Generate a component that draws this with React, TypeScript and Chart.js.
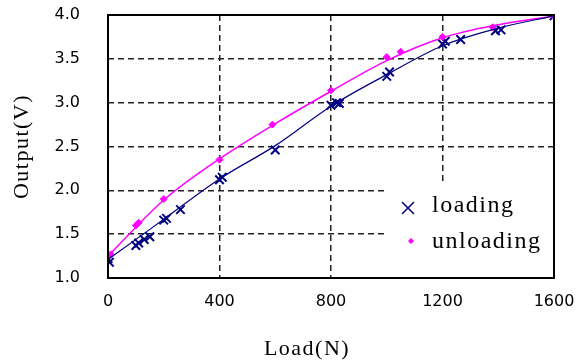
import React, { useEffect, useRef } from "react";
import { Chart, registerables } from "chart.js";
Chart.register(...registerables);

// ---- data ----
const loadingX = [0, 5, 100, 110, 130, 150, 200, 210, 260, 400, 410, 600, 800, 820, 830, 1000, 1010, 1200, 1210, 1265, 1390, 1410, 1600];
const loadingY = [1.22, 1.18, 1.37, 1.40, 1.44, 1.47, 1.66, 1.68, 1.78, 2.12, 2.15, 2.46, 2.97, 3.00, 2.99, 3.30, 3.35, 3.67, 3.70, 3.72, 3.82, 3.83, 3.99];
const unloadingX = [0, 10, 100, 110, 200, 400, 590, 800, 1000, 1050, 1200, 1380, 1600];
const unloadingY = [1.25, 1.27, 1.60, 1.63, 1.90, 2.35, 2.75, 3.14, 3.52, 3.58, 3.75, 3.86, 3.99];
const fitX = [0, 200, 400, 600, 800, 1000, 1200, 1400, 1600];
const loadingFitY = [1.21, 1.67, 2.13, 2.51, 2.96, 3.32, 3.65, 3.85, 3.99];
const unloadingFitY = [1.25, 1.89, 2.36, 2.76, 3.13, 3.48, 3.74, 3.89, 3.99];
const xTickValues = [0, 400, 800, 1200, 1600];
const yTickValues = [1.0, 1.5, 2.0, 2.5, 3.0, 3.5, 4.0];
const seriesNames = ["loading", "unloading"];
const xTitle = "Load(N)";
const yTitle = "Output(V)";

const NAVY = "#000080";
const MAGENTA = "#FF00FF";
const SERIF = '"Liberation Serif", "Times New Roman", serif';

const toPts = (xs: number[], ys: number[]) => xs.map((x, i) => ({ x, y: ys[i] }));

const decor = {
  id: "decor",
  afterDatasetsDraw(chart: any) {
    const { ctx, chartArea: a } = chart;
    ctx.save();
    // legend box
    const bx = a.right - 169;
    const by = a.bottom - 96;
    ctx.fillStyle = "#fff";
    ctx.fillRect(bx, by, a.right - bx, a.bottom - by);
    // loading marker (x)
    const m1x = bx + 23, m1y = by + 26;
    ctx.strokeStyle = NAVY;
    ctx.lineWidth = 1.5;
    ctx.beginPath();
    ctx.moveTo(m1x - 6, m1y - 6); ctx.lineTo(m1x + 6, m1y + 6);
    ctx.moveTo(m1x + 6, m1y - 6); ctx.lineTo(m1x - 6, m1y + 6);
    ctx.stroke();
    // unloading marker (diamond)
    const m2x = bx + 26, m2y = by + 59;
    ctx.fillStyle = MAGENTA;
    ctx.beginPath();
    ctx.moveTo(m2x, m2y - 3); ctx.lineTo(m2x + 3, m2y); ctx.lineTo(m2x, m2y + 3); ctx.lineTo(m2x - 3, m2y);
    ctx.closePath();
    ctx.fill();
    // legend text
    ctx.fillStyle = "#000";
    ctx.font = `24px ${SERIF}`;
    (ctx as any).letterSpacing = "1.5px";
    ctx.textAlign = "left";
    ctx.textBaseline = "alphabetic";
    ctx.fillText(seriesNames[0], bx + 47, by + 30);
    ctx.fillText(seriesNames[1], bx + 47, by + 66);
    ctx.restore();

    // plot border
    ctx.save();
    ctx.strokeStyle = "#000";
    ctx.lineWidth = 2;
    ctx.strokeRect(a.left, a.top, a.right - a.left, a.bottom - a.top);
    ctx.restore();
  },
  afterDraw(chart: any) {
    const { ctx, chartArea: a } = chart;
    ctx.save();
    ctx.fillStyle = "#000";
    ctx.font = `22px ${SERIF}`;
    (ctx as any).letterSpacing = "1.5px";
    ctx.textAlign = "center";
    ctx.textBaseline = "alphabetic";
    ctx.fillText(xTitle, (a.left + a.right) / 2 - 24, a.bottom + 77);
    ctx.translate(22, (a.top + a.bottom) / 2);
    ctx.rotate(-Math.PI / 2);
    ctx.textBaseline = "middle";
    ctx.fillText(yTitle, 0, 0);
    ctx.restore();
  },
};

export default function App() {
  const ref = useRef<HTMLCanvasElement | null>(null);
  useEffect(() => {
    if (!ref.current) return;
    const chart = new Chart(ref.current, {
      type: "line",
      data: {
        datasets: [
          {
            label: "loading fit",
            data: toPts(fitX, loadingFitY),
            borderColor: NAVY,
            borderWidth: 1.2,
            pointRadius: 0,
            cubicInterpolationMode: "monotone",
            fill: false,
          },
          {
            label: "unloading fit",
            data: toPts(fitX, unloadingFitY),
            borderColor: MAGENTA,
            borderWidth: 1.5,
            pointRadius: 0,
            cubicInterpolationMode: "monotone",
            fill: false,
          },
          {
            label: seriesNames[1],
            data: toPts(unloadingX, unloadingY),
            showLine: false,
            pointStyle: "rectRot",
            pointRadius: 3.5,
            backgroundColor: MAGENTA,
            borderColor: MAGENTA,
            borderWidth: 1,
          },
          {
            label: seriesNames[0],
            data: toPts(loadingX, loadingY),
            showLine: false,
            pointStyle: "crossRot",
            pointRadius: 6,
            borderColor: NAVY,
            backgroundColor: NAVY,
            borderWidth: 2,
          },
        ],
      },
      options: {
        animation: false,
        responsive: false,
        layout: { padding: { left: 0, right: 22, top: 15, bottom: 0 } },
        plugins: { legend: { display: false }, tooltip: { enabled: false } },
        scales: {
          x: {
            type: "linear",
            min: xTickValues[0],
            max: xTickValues[xTickValues.length - 1],
            afterBuildTicks: (s: any) => { s.ticks = xTickValues.map((v) => ({ value: v })); },
            afterFit: (s: any) => { s.height = 85; s.paddingLeft = 0; s.paddingRight = 0; },
            ticks: {
              color: "#000",
              font: { family: '"DejaVu Sans", sans-serif', size: 16 },
              padding: 14,
              maxRotation: 0,
              callback: (v: any) => String(v),
            },
            grid: { color: "#222", lineWidth: 1.5, drawTicks: false },
            border: { display: false, dash: [6, 4] },
          },
          y: {
            type: "linear",
            min: yTickValues[0],
            max: yTickValues[yTickValues.length - 1],
            afterBuildTicks: (s: any) => { s.ticks = yTickValues.map((v) => ({ value: v })); },
            afterFit: (s: any) => { s.width = 108; s.paddingTop = 0; s.paddingBottom = 0; },
            ticks: {
              color: "#000",
              font: { family: '"DejaVu Sans", sans-serif', size: 16 },
              padding: 28,
              callback: (v: any) => Number(v).toFixed(1),
            },
            grid: { color: "#222", lineWidth: 1.5, drawTicks: false },
            border: { display: false, dash: [6, 4] },
          },
        },
      },
      plugins: [decor],
    } as any);
    return () => chart.destroy();
  }, []);
  return (
    <div style={{ position: "fixed", left: 0, top: 0, width: 576, height: 363, background: "#fff" }}>
      <canvas ref={ref} width={576} height={363} />
    </div>
  );
}
